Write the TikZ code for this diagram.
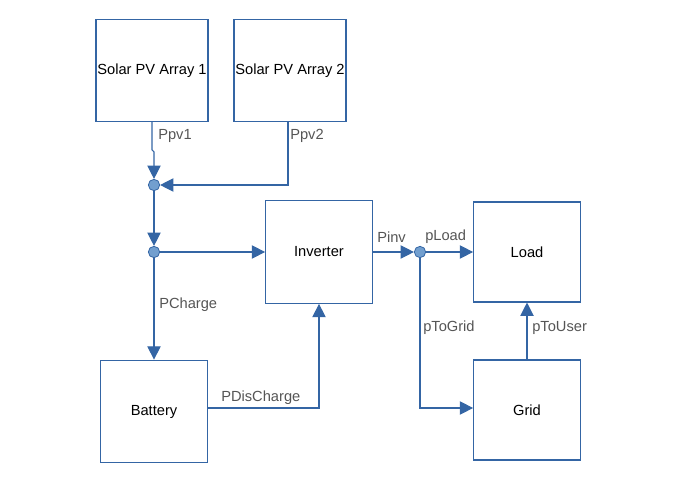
\documentclass[tikz,border=0pt]{standalone}
\usepackage{fontspec}
\setmainfont{Liberation Sans}
\usetikzlibrary{arrows.meta}
\definecolor{lineblue}{HTML}{3465A4}
\definecolor{dotfill}{HTML}{729FCF}
\definecolor{labelgray}{HTML}{555555}
\begin{document}
\begin{tikzpicture}[x=0.75pt,y=-0.75pt,
  blk/.style={draw=lineblue,line width=0.8pt,minimum width=84pt,minimum height=76pt,inner sep=0pt,font=\fontsize{11}{13}\selectfont,text=black},
  blkn/.style={blk,minimum width=80pt},
  dot/.style={circle,draw=lineblue,fill=dotfill,line width=0.6pt,minimum size=8.5pt,inner sep=0pt},
  conn/.style={draw=lineblue,line width=0.8pt,line join=miter},
  arr/.style={conn,-{Triangle[length=10pt,width=10pt]}},
  lab/.style={font=\fontsize{11}{13}\selectfont,text=labelgray,inner sep=0pt,anchor=west}]
\useasboundingbox (0,0) rectangle (688,484);
\node[blk] (pv1) at (152,70.5) {Solar PV Array 1};
\node[blk] (pv2) at (290,70.5) {Solar PV Array 2};
\node[blkn,minimum height=77pt] (inv) at (319,252) {Inverter};
\node[blkn,minimum height=77pt] (bat) at (154,411.5) {Battery};
\node[blkn,minimum height=75pt] (load) at (527,252) {Load};
\node[blkn,minimum height=75pt] (grid) at (527,410) {Grid};
\node[dot] (j1) at (154,185) {};
\node[dot] (j2) at (154,252) {};
\node[dot] (j3) at (420,252) {};
\coordinate (c1) at (152,150);
\coordinate (c2) at (154,152);
\draw[arr] (pv1.south -| c1) -- (c1) -- (c2) -- (j1);
\draw[arr] (pv2.south -| 288,0) -- (288,185) -- (j1);
\draw[arr] (j1) -- (j2);
\draw[arr] (j2) -- (inv.west);
\draw[arr] (j2) -- (bat.north);
\draw[arr] (bat.east |- 0,408) -- (319,408) -- (inv.south);
\draw[arr] (inv.east) -- (j3);
\draw[arr] (j3) -- (load.west);
\draw[arr] (j3) -- (420,408) -- (grid.west |- 0,408);
\draw[arr] (grid.north) -- (load.south);
\node[lab] (l1) at (158,136) {Ppv1};
\node[lab] (l2) at (290,136) {Ppv2};
\node[lab] (l3) at (159,305) {PCharge};
\node[lab] (l4) at (221,398) {PDisCharge};
\node[lab] (l5) at (377,237) {Pinv};
\node[lab] (l6) at (425,237) {pLoad};
\node[lab] (l7) at (423,328) {pToGrid};
\node[lab] (l8) at (532,328) {pToUser};
\end{tikzpicture}
\end{document}
